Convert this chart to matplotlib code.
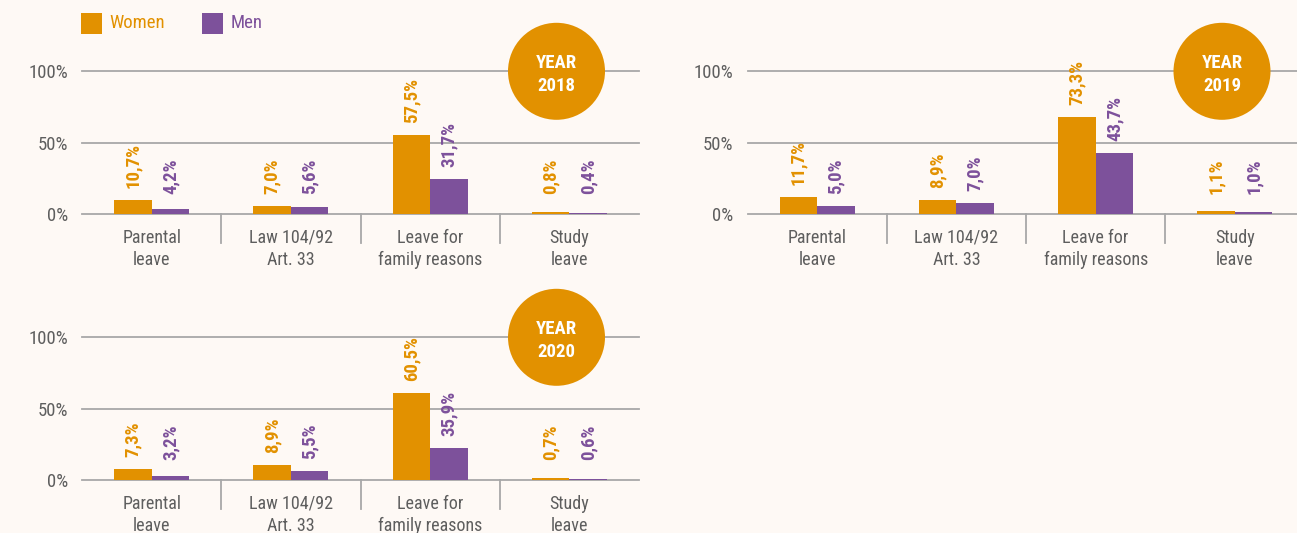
import matplotlib
matplotlib.use("Agg")
import matplotlib.pyplot as plt
from matplotlib.patches import Ellipse, Rectangle
import matplotlib.transforms as mtransforms

plt.rcParams['font.family'] = ['Roboto Condensed', 'Open Sans Condensed', 'Liberation Sans Narrow',
                               'Liberation Sans', 'DejaVu Sans']

# ---------------- data ----------------
categories = ["Parental\nleave", "Law 104/92\nArt. 33", "Leave for\nfamily reasons", "Study\nleave"]
years = ["2018", "2019", "2020"]
# bar heights as drawn in the picture (%)
women_2018 = [9.6, 5.6, 55.2, 1.2]
men_2018 = [3.5, 4.9, 24.3, 0.7]
women_2019 = [11.7, 9.6, 67.8, 1.9]
men_2019 = [5.4, 7.7, 42.6, 1.2]
women_2020 = [7.7, 10.5, 60.8, 1.4]
men_2020 = [2.8, 6.3, 22.4, 0.7]
# value labels as printed
women_lbl_2018 = ["10,7%", "7,0%", "57,5%", "0,8%"]
men_lbl_2018 = ["4,2%", "5,6%", "31,7%", "0,4%"]
women_lbl_2019 = ["11,7%", "8,9%", "73,3%", "1,1%"]
men_lbl_2019 = ["5,0%", "7,0%", "43,7%", "1,0%"]
women_lbl_2020 = ["7,3%", "8,9%", "60,5%", "0,7%"]
men_lbl_2020 = ["3,2%", "5,5%", "35,9%", "0,6%"]
yticks = [0, 50, 100]
ytick_labels = ["0%", "50%", "100%"]
legend_labels = ["Women", "Men"]

# ---------------- style ----------------
BG = "#FEF9F5"
ORANGE = "#E29100"
PURPLE = "#7D519B"
GRID = "#A8A8A8"
TXT = "#5E5E5E"

W, H = 1297, 533
fig = plt.figure(figsize=(W / 100, H / 100), dpi=100, facecolor=BG)

def px_axes(left, bottom_px, right, top_px):
    return fig.add_axes([left / W, (H - bottom_px) / H, (right - left) / W, (bottom_px - top_px) / H])

panels = [
    (px_axes(82, 214, 639, 71.3), "2018", women_2018, men_2018, women_lbl_2018, men_lbl_2018),
    (px_axes(747.5, 214, 1304.5, 71.3), "2019", women_2019, men_2019, women_lbl_2019, men_lbl_2019),
    (px_axes(82, 480, 639, 337.3), "2020", women_2020, men_2020, women_lbl_2020, men_lbl_2020),
]

bw = 0.27
x = list(range(len(categories)))
for ax, yr, wv, mv, wl, ml in panels:
    ax.set_facecolor(BG)
    ax.set_xlim(-0.5, len(categories) - 0.5)
    ax.set_ylim(0, 100)
    for s in ax.spines.values():
        s.set_visible(False)
    for g in yticks:
        ax.axhline(g, color=GRID, lw=1.3, zorder=0, clip_on=False)
    xw = [i - bw / 2 for i in x]
    xm = [i + bw / 2 for i in x]
    ax.bar(xw, wv, width=bw, color=ORANGE, zorder=2)
    ax.bar(xm, mv, width=bw, color=PURPLE, zorder=2)
    for xi, h, lab in zip(xw, wv, wl):
        ax.annotate(lab, (xi, max(h, 5)), xytext=(0, 9), textcoords="offset points",
                    rotation=90, ha="center", va="bottom", fontsize=13.5, fontweight="bold",
                    color=ORANGE, zorder=3)
    for xi, h, lab in zip(xm, mv, ml):
        ax.annotate(lab, (xi, max(h, 5)), xytext=(0, 9), textcoords="offset points",
                    rotation=90, ha="center", va="bottom", fontsize=13.5, fontweight="bold",
                    color=PURPLE, zorder=3)
    # category dividers
    trans = mtransforms.blended_transform_factory(ax.transData, ax.transAxes)
    for d in [i + 0.5 for i in x[:-1]]:
        ax.plot([d, d], [0, -0.205], color=GRID, lw=1.3, transform=trans, clip_on=False)
    ax.set_yticks(yticks)
    ax.set_yticklabels(ytick_labels, fontsize=13.5, color=TXT)
    ax.set_xticks(x)
    ax.set_xticklabels(categories, fontsize=13, color=TXT, linespacing=1.3)
    ax.tick_params(axis="both", length=0)
    ax.tick_params(axis="y", pad=10)
    ax.tick_params(axis="x", pad=10.5)
    # year badge
    axw = ax.get_position().width * W
    axh = ax.get_position().height * H
    cx = (556.5 - 82) / 557
    circ = Ellipse((cx, 1.0), width=97 / axw, height=97 / axh, transform=ax.transAxes,
                   facecolor=ORANGE, edgecolor="none", clip_on=False, zorder=5)
    ax.add_patch(circ)
    ax.annotate("YEAR\n" + yr, (cx, 1.0), xycoords="axes fraction", xytext=(0, -2),
                textcoords="offset points", ha="center", va="center",
                color="white", fontsize=13.5, fontweight="bold", linespacing=1.35, zorder=6)

# legend
for (lx, tx), lab, col in zip([(81, 109), (202, 230.5)], legend_labels, [ORANGE, PURPLE]):
    fig.patches.append(Rectangle((lx / W, (H - 34) / H), 21 / W, 21 / H,
                                 transform=fig.transFigure, facecolor=col, edgecolor="none"))
    fig.text(tx / W, (H - 23) / H, lab, color=col, fontsize=13.5, ha="left", va="center")

fig.savefig("out.png", dpi=100, facecolor=BG)
